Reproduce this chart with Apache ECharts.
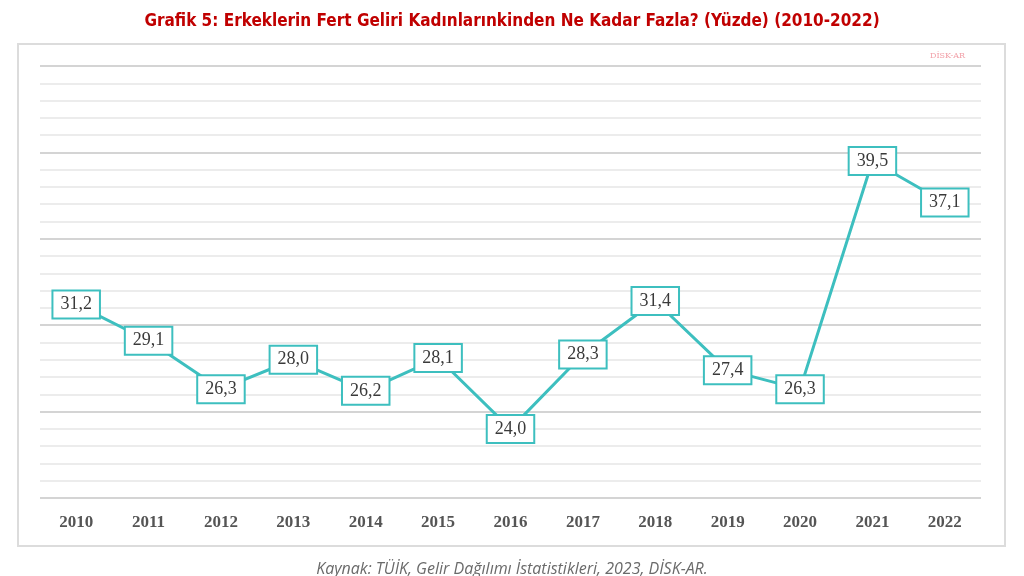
<!DOCTYPE html>
<html><head><meta charset="utf-8">
<script src="https://cdn.jsdelivr.net/npm/echarts@6/dist/echarts.min.js"></script>
<style>html,body{margin:0;padding:0;background:#fff}#c{width:1024px;height:576px}</style>
</head><body><div id="c"></div>
<script>
const years = ['2010','2011','2012','2013','2014','2015','2016','2017','2018','2019','2020','2021','2022'];
const values = [31.2, 29.1, 26.3, 28.0, 26.2, 28.1, 24.0, 28.3, 31.4, 27.4, 26.3, 39.5, 37.1];
const titleText = 'Grafik 5: Erkeklerin Fert Geliri Kadınlarınkinden Ne Kadar Fazla? (Yüzde) (2010-2022)';
const sourceText = 'Kaynak: TÜİK, Gelir Dağılımı İstatistikleri, 2023, DİSK-AR.';
const yMin = 20, yMax = 45;

const chart = echarts.init(document.getElementById('c'), null, {renderer: 'canvas'});
chart.setOption({
  backgroundColor: '#fff',
  animation: false,
  title: {
    text: titleText, left: 'center', top: 8,
    textStyle: {color: '#c00000', fontSize: 17, fontWeight: 'bold', fontFamily: 'Liberation Sans Narrow, DejaVu Sans Condensed, sans-serif'}
  },
  graphic: [
    {type: 'rect', shape: {x: 18, y: 44, width: 987, height: 502}, style: {fill: 'none', stroke: '#dcdcdc', lineWidth: 2}, z: -1},
    {type: 'text', x: 512, y: 561, style: {text: sourceText, fill: '#6a6a6a', font: 'italic 16px "Open Sans", sans-serif', textAlign: 'center'}},
    {type: 'text', x: 930, y: 52, style: {text: 'DİSK-AR', fill: '#f2a0a8', font: '8px "DejaVu Serif", serif'}}
  ],
  grid: {left: 40, right: 43, top: 66, bottom: 78},
  xAxis: {
    type: 'category', data: years, boundaryGap: true,
    axisLine: {show: false}, axisTick: {show: false},
    axisLabel: {color: '#555', fontSize: 17, fontWeight: 'bold', fontFamily: 'Liberation Serif, serif', margin: 16}
  },
  yAxis: [
    {type: 'value', min: yMin, max: yMax, interval: 1, axisLabel: {show: false}, axisLine: {show: false}, axisTick: {show: false},
     splitLine: {lineStyle: {color: '#ececec', width: 2}}},
    {type: 'value', min: yMin, max: yMax, interval: 5, position: 'left', axisLabel: {show: false}, axisLine: {show: false}, axisTick: {show: false},
     splitLine: {lineStyle: {color: '#d4d4d4', width: 2}}}
  ],
  series: [{
    type: 'line', data: values, yAxisIndex: 0,
    symbol: 'circle', symbolSize: 1,
    lineStyle: {color: '#3dbfbf', width: 3},
    itemStyle: {color: '#3dbfbf'},
    z: 5,
    label: {
      show: true, position: 'inside',
      formatter: p => p.value.toFixed(1).replace('.', ','),
      color: '#3a3a3a', fontSize: 18, fontFamily: 'Liberation Serif, serif',
      backgroundColor: '#fff', borderColor: '#3dbfbf', borderWidth: 2,
      padding: [5, 7, 3, 7]
    }
  }]
});
</script></body></html>
